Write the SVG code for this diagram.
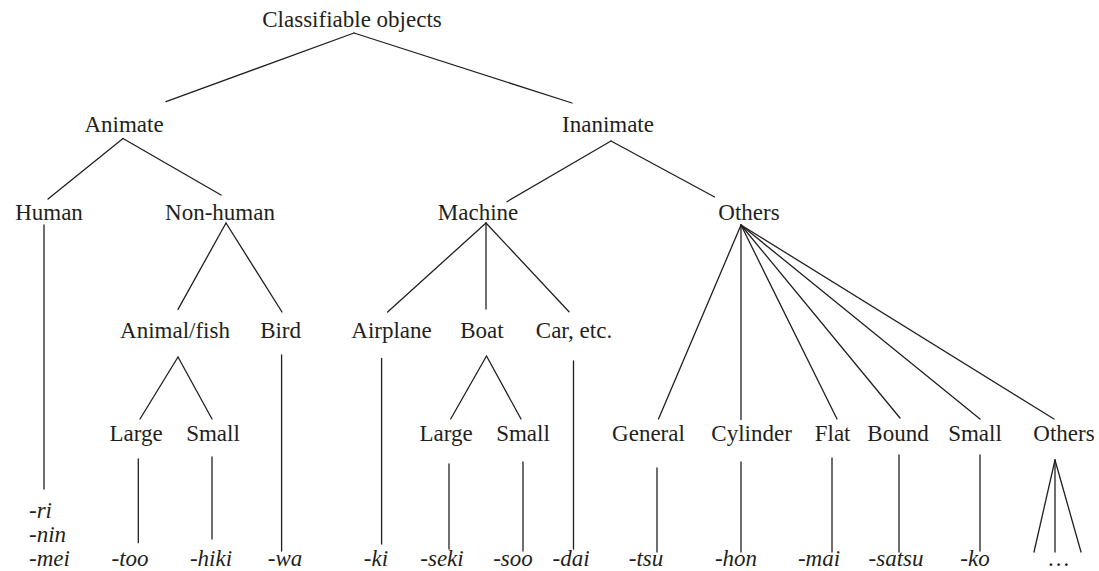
<svg xmlns="http://www.w3.org/2000/svg" width="1099" height="571" viewBox="0 0 1099 571">
<style>
.t{font-size:23px;fill:#231f20;text-anchor:middle}
.it{font-style:italic}
.l{text-anchor:start}
#connectors line{stroke:#231f20;stroke-width:1.3;stroke-linecap:round}
</style>
<rect width="1099" height="571" fill="#ffffff"/>
<g id="connectors">
<line x1="354" y1="33" x2="166" y2="101.7"/>
<line x1="354" y1="33" x2="572" y2="103"/>
<line x1="123" y1="138.5" x2="48" y2="199"/>
<line x1="123" y1="138.5" x2="221" y2="195"/>
<line x1="611" y1="141" x2="507" y2="201.7"/>
<line x1="611" y1="141" x2="714.6" y2="197"/>
<line x1="44" y1="225" x2="44" y2="489"/>
<line x1="226" y1="223" x2="178" y2="309.4"/>
<line x1="226" y1="223" x2="282" y2="312"/>
<line x1="486" y1="223" x2="387.6" y2="312"/>
<line x1="486" y1="223" x2="486" y2="309"/>
<line x1="486" y1="223" x2="569" y2="311.7"/>
<line x1="741" y1="225" x2="658.5" y2="419"/>
<line x1="741" y1="225" x2="741" y2="419.6"/>
<line x1="741" y1="225" x2="837" y2="419"/>
<line x1="741" y1="225" x2="900" y2="418"/>
<line x1="741" y1="225" x2="980" y2="419"/>
<line x1="741" y1="225" x2="1054" y2="419"/>
<line x1="178" y1="357" x2="140" y2="419"/>
<line x1="178" y1="357" x2="212" y2="419"/>
<line x1="281.6" y1="355" x2="281.6" y2="551"/>
<line x1="381.6" y1="358.5" x2="381.6" y2="544"/>
<line x1="486.5" y1="356" x2="450.7" y2="419"/>
<line x1="486.5" y1="356" x2="521" y2="419"/>
<line x1="573.5" y1="361" x2="573.5" y2="549"/>
<line x1="138.3" y1="459" x2="138.3" y2="542.7"/>
<line x1="212" y1="457" x2="212" y2="539"/>
<line x1="449" y1="464" x2="449" y2="549"/>
<line x1="523" y1="462" x2="523" y2="551"/>
<line x1="657" y1="468" x2="657" y2="552"/>
<line x1="741" y1="462" x2="741" y2="552"/>
<line x1="832" y1="458" x2="832" y2="552"/>
<line x1="899" y1="455" x2="899" y2="552"/>
<line x1="980" y1="455" x2="980" y2="551"/>
<line x1="1055" y1="460" x2="1034" y2="552"/>
<line x1="1055" y1="460" x2="1055" y2="552"/>
<line x1="1055" y1="460" x2="1081" y2="552"/>
</g>
<g font-family="'Liberation Serif', 'DejaVu Serif', serif">
<g id="root"><text class="t" x="352" y="27">Classifiable objects</text></g>
<g id="animate"><text class="t" x="124" y="131.5">Animate</text></g>
<g id="inanimate"><text class="t" x="608" y="131.5">Inanimate</text></g>
<g id="human"><text class="t" x="49" y="220">Human</text></g>
<g id="nonhuman"><text class="t" x="220" y="220">Non-human</text></g>
<g id="machine"><text class="t" x="478" y="220">Machine</text></g>
<g id="others1"><text class="t" x="749" y="220">Others</text></g>
<g id="animalfish"><text class="t" x="175" y="337.5">Animal/fish</text></g>
<g id="bird"><text class="t" x="280.6" y="337.5">Bird</text></g>
<g id="airplane"><text class="t" x="391.5" y="337.5">Airplane</text></g>
<g id="boat"><text class="t" x="482" y="337.5">Boat</text></g>
<g id="car"><text class="t" x="574" y="337.5">Car, etc.</text></g>
<g id="large1"><text class="t" x="136" y="441">Large</text></g>
<g id="small1"><text class="t" x="213" y="441">Small</text></g>
<g id="large2"><text class="t" x="446" y="441">Large</text></g>
<g id="small2"><text class="t" x="523" y="441">Small</text></g>
<g id="general"><text class="t" x="648.5" y="441">General</text></g>
<g id="cylinder"><text class="t" x="751.6" y="441">Cylinder</text></g>
<g id="flat"><text class="t" x="832.6" y="441">Flat</text></g>
<g id="bound"><text class="t" x="898" y="441">Bound</text></g>
<g id="small3"><text class="t" x="975" y="441">Small</text></g>
<g id="others2"><text class="t" x="1064" y="441">Others</text></g>
<g id="suf-human"><text class="t it l" x="29" y="518">-ri</text><text class="t it l" x="29" y="542">-nin</text><text class="t it l" x="29" y="566">-mei</text></g>
<g id="suf-too"><text class="t it" x="130" y="566">-too</text></g>
<g id="suf-hiki"><text class="t it" x="211" y="566">-hiki</text></g>
<g id="suf-wa"><text class="t it" x="285" y="566">-wa</text></g>
<g id="suf-ki"><text class="t it" x="376" y="566">-ki</text></g>
<g id="suf-seki"><text class="t it" x="442" y="566">-seki</text></g>
<g id="suf-soo"><text class="t it" x="513" y="566">-soo</text></g>
<g id="suf-dai"><text class="t it" x="571" y="566">-dai</text></g>
<g id="suf-tsu"><text class="t it" x="646" y="566">-tsu</text></g>
<g id="suf-hon"><text class="t it" x="736" y="566">-hon</text></g>
<g id="suf-mai"><text class="t it" x="819" y="566">-mai</text></g>
<g id="suf-satsu"><text class="t it" x="896" y="566">-satsu</text></g>
<g id="suf-ko"><text class="t it" x="975" y="566">-ko</text></g>
<g id="suf-etc"><text class="t it" x="1059" y="566">…</text></g>
</g>
</svg>
